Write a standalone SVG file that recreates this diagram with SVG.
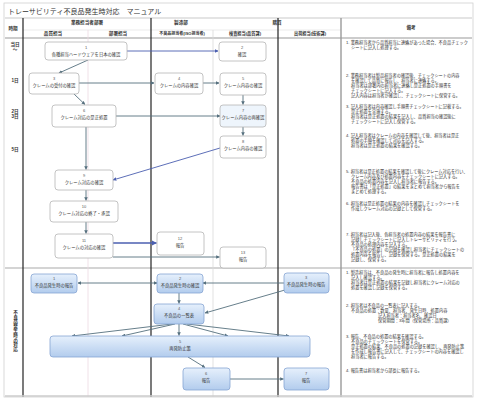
<svg xmlns="http://www.w3.org/2000/svg" width="477" height="401" viewBox="0 0 477 401">
<defs>
<linearGradient id="g" x1="0" y1="0" x2="0" y2="1">
<stop offset="0" stop-color="#e6f0fc"/>
<stop offset="1" stop-color="#b2cced"/>
</linearGradient>
<marker id="ah" viewBox="0 0 6 6" refX="5.5" refY="3" markerWidth="4" markerHeight="4" orient="auto-start-reverse">
<path d="M0,0 L6,3 L0,6 z" fill="#56707e"/>
</marker>
<marker id="ahb" viewBox="0 0 6 6" refX="5.5" refY="3" markerWidth="4" markerHeight="4" orient="auto-start-reverse">
<path d="M0,0 L6,3 L0,6 z" fill="#4b5fb0"/>
</marker>
</defs>
<style>
text{font-family:"Liberation Sans","Noto Sans CJK JP",sans-serif;fill:#333}
.t{font-size:4.3px;text-anchor:middle}
.n{font-size:4px;text-anchor:middle;fill:#555}
.h{font-size:4.6px;text-anchor:middle;font-weight:bold}
.note{font-size:4.2px}
.box{fill:#fff;stroke:#b5b5b5;stroke-width:0.8}
.lbox{fill:url(#g);stroke:#86a5d3;stroke-width:0.8}
.c{stroke:#56707e;stroke-width:0.9;fill:none;marker-end:url(#ah)}
.cb{stroke:#4b5fb0;stroke-width:0.9;fill:none;marker-end:url(#ahb)}
.thick{stroke:#222;stroke-width:1.2}
.thin{stroke:#d9d9d9;stroke-width:0.8}
.faint{stroke:#ecd9e2;stroke-width:0.8}
</style>
<rect x="0" y="0" width="477" height="401" fill="#fff"/>
<rect x="4" y="3" width="469" height="394" fill="none" stroke="#d0d0d0" stroke-width="0.8"/>
<text x="8" y="14" style="font-size:7px">トレーサビリティ不良品発生時対応　マニュアル</text>

<g id="grid">
<line x1="5" y1="18" x2="472" y2="18" stroke="#bbb" stroke-width="0.8"/>
<line x1="23" y1="30" x2="341" y2="30" stroke="#ddd" stroke-width="0.6"/>
<line x1="5" y1="38" x2="472" y2="38" stroke="#999" stroke-width="1"/>
<line x1="5" y1="268" x2="472" y2="268" stroke="#aaa" stroke-width="1.2"/>
<line x1="88" y1="30" x2="88" y2="397" class="faint"/>
<line x1="213" y1="30" x2="213" y2="397" class="thin"/>
<line x1="23" y1="18" x2="23" y2="397" class="thick"/>
<line x1="151" y1="18" x2="151" y2="397" class="thick"/>
<line x1="278" y1="18" x2="278" y2="397" class="thick"/>
<line x1="341" y1="18" x2="341" y2="397" stroke="#9a9a9a" stroke-width="1.4"/>
<line x1="5" y1="396" x2="472" y2="396" stroke="#ccc" stroke-width="1.5"/>
</g>

<g id="headers">
<text class="h" x="13" y="30">時期</text>
<text class="h" x="87" y="24">業務担当者部署</text>
<text class="h" x="53" y="35">品質担当</text>
<text class="h" x="118" y="35">部署担当</text>
<text class="h" x="181" y="24">製造部</text>
<text class="h" x="182" y="35" style="font-size:4px">不良品担当者(ISO担当者)</text>
<text class="h" x="277" y="24">購買</text>
<text class="h" x="245" y="35" style="font-size:4.2px">検査担当(品質課)</text>
<text class="h" x="310" y="35" style="font-size:4.2px">出荷担当(技術課)</text>
<text class="h" x="411" y="29">備考</text>
</g>

<g id="timeLabels">
<text class="h" x="15" y="46">当日</text>
<text class="h" x="15" y="51">～</text>
<text class="h" x="15" y="82">1日</text>
<text class="h" x="15" y="113">2日</text>
<text class="h" x="15" y="118">3日</text>
<text class="h" x="15" y="151">5日</text>
<text x="15" y="310" style="font-size:4.6px;font-weight:bold;writing-mode:vertical-rl">不良品発生時の対応</text>
</g>

<g id="connectors">
<path class="cb" d="M126,51 H218"/>
<path class="c" d="M88,60 L59,73"/>
<path class="c" d="M79,83 H154"/>
<path class="c" d="M203,83 H219"/>
<path class="c" d="M74,94 L85,104.5"/>
<path class="c" d="M116,116 H220"/>
<path class="c" d="M243,95 V104.5"/>
<path class="c" d="M243,127 V135.5"/>
<path class="cb" d="M220,148 L113,180"/>
<path class="c" d="M86,127 V169.5"/>
<path class="c" d="M86,190 V200.5"/>
<path class="c" d="M86,222 V233.5"/>
<path class="cb" d="M113,243 H156.5" style="stroke-width:1.3"/>
<path class="c" d="M113,257 H219.5"/>
<path class="c" d="M157,283 H78" style="marker-start:url(#ah)"/>
<path class="c" d="M284,283 H203"/>
<path class="c" d="M179,293 V303.5"/>
<path class="c" d="M285,290 L205,313"/>
<path class="c" d="M172,324 L72,336"/>
<path class="c" d="M175,324 L122,336"/>
<path class="c" d="M179,324 V335.5"/>
<path class="c" d="M183,324 L228,336"/>
<path class="c" d="M187,324 L289,336"/>
<path class="c" d="M188,357 L205,367.5"/>
<path class="c" d="M230,379 H283.5"/>
</g>

<g id="n1"><rect class="box" x="45" y="42" width="82" height="18" rx="3"/><text class="n" x="86" y="49">1</text><text class="t" x="86" y="56">各種担当ハードウェアを日本の確認</text></g>
<g id="n2"><rect class="box" x="219" y="42" width="47" height="19" rx="3"/><text class="n" x="242" y="49">2</text><text class="t" x="242" y="56">確認</text></g>
<g id="n3"><rect class="box" x="29" y="73" width="50" height="21" rx="3"/><text class="n" x="54" y="80">3</text><text class="t" x="54" y="87">クレームの受付の確認</text></g>
<g id="n4"><rect class="box" x="155" y="73" width="48" height="21" rx="3"/><text class="n" x="179" y="80">4</text><text class="t" x="179" y="87">クレームの内容確認</text></g>
<g id="n5"><rect class="box" x="220" y="73" width="46" height="22" rx="3"/><text class="n" x="243" y="80">5</text><text class="t" x="243" y="87">クレーム内容の確認</text></g>
<g id="n6"><rect class="box" x="52" y="105" width="64" height="22" rx="3"/><text class="n" x="84" y="112">6</text><text class="t" x="84" y="119">クレーム対応の是正処置</text></g>
<g id="n7"><rect class="box" x="220" y="105" width="46" height="22" rx="3" style="fill:#eef5fc"/><text class="n" x="243" y="112">7</text><text class="t" x="243" y="119">クレーム内容の再確認</text></g>
<g id="n8"><rect class="box" x="220" y="136" width="46" height="22" rx="3"/><text class="n" x="243" y="143">8</text><text class="t" x="243" y="150">クレーム内容の確認</text></g>
<g id="n9"><rect class="box" x="55" y="170" width="58" height="20" rx="3"/><text class="n" x="84" y="177">9</text><text class="t" x="84" y="184">クレーム対応の確認</text></g>
<g id="n10"><rect class="box" x="50" y="201" width="68" height="21" rx="3"/><text class="n" x="84" y="208">10</text><text class="t" x="84" y="215">クレーム対応の終了・承認</text></g>
<g id="n11"><rect class="box" x="55" y="234" width="58" height="24" rx="3"/><text class="n" x="84" y="242">11</text><text class="t" x="84" y="249">クレームの対応の確認</text></g>
<g id="n12"><rect class="box" x="157" y="232" width="47" height="23" rx="3"/><text class="n" x="180" y="240">12</text><text class="t" x="180" y="247">報告</text></g>
<g id="n13"><rect class="box" x="220" y="247" width="46" height="21" rx="3"/><text class="n" x="243" y="254">13</text><text class="t" x="243" y="261">報告</text></g>

<g id="l1"><rect class="lbox" x="31" y="274" width="46" height="19" rx="3"/><text class="n" x="54" y="280">1</text><text class="t" x="54" y="287">不良品発生時の報告</text></g>
<g id="l2"><rect class="lbox" x="157" y="274" width="46" height="19" rx="3"/><text class="n" x="180" y="280">2</text><text class="t" x="180" y="287">不良品発生時の確認</text></g>
<g id="l3"><rect class="lbox" x="284" y="273" width="45" height="20" rx="3"/><text class="n" x="306" y="279">3</text><text class="t" x="306" y="286">不良品発生時の報告</text></g>
<g id="l4"><rect class="lbox" x="154" y="304" width="50" height="20" rx="3"/><text class="n" x="179" y="310">4</text><text class="t" x="179" y="317">不良品の一覧表</text></g>
<g id="l5"><rect class="lbox" x="50" y="336" width="260" height="21" rx="3"/><text class="n" x="180" y="343">5</text><text class="t" x="180" y="350">再発防止策</text></g>
<g id="l6"><rect class="lbox" x="183" y="368" width="47" height="22" rx="3"/><text class="n" x="206" y="375">6</text><text class="t" x="206" y="382">報告</text></g>
<g id="l7"><rect class="lbox" x="284" y="368" width="45" height="22" rx="3"/><text class="n" x="306" y="375">7</text><text class="t" x="306" y="382">報告</text></g>

<g id="notes" class="note">
<text x="346" y="44">1. 業務担当者から品質担当に連絡があった場合、不良品チェック</text>
<text x="351" y="49">シートに記入し処理する。</text>
<text x="346" y="77">2. 業務担当者は製品担当者の確認後、チェックシートの内容</text>
<text x="351" y="82">を確認して品質に報告し、担当者に連絡する。</text>
<text x="351" y="87">担当者は部署内の担当者に連絡し是正処置の手順書を</text>
<text x="351" y="92">チェックシートに記入する。</text>
<text x="351" y="97">記入内容は担当者が確認し、チェックシートに保管する。</text>
<text x="346" y="108">3. 記入担当者は内容確認し手順書チェックシートに記載する。</text>
<text x="351" y="113">是正処置を実施する。</text>
<text x="351" y="118">担当者は是正処置の結果を記入し、品質担当の確認後に</text>
<text x="351" y="123">チェックシートに記入し保管する。</text>
<text x="346" y="137">4. 記入担当者はクレームの内容を確認して後、担当者は是正</text>
<text x="351" y="142">処置の手順を確認して対応を記入する。</text>
<text x="351" y="147">担当者は是正処置の結果を確認する。</text>
<text x="346" y="173">5. 担当者は是正処置の結果を確認して後にクレーム対応を行い、</text>
<text x="351" y="178">クレーム内容及び処置内容をチェックシートに記入する。</text>
<text x="351" y="183">不良品の処置内容を記入し担当者に報告する。</text>
<text x="351" y="188">報告書は「是正処置」の結果をまとめて担当者から報告を</text>
<text x="351" y="193">まとめて処理する。</text>
<text x="346" y="205">6. 担当者は是正処置の結果の内容を確認しチェックシートを</text>
<text x="351" y="210">作成しクレーム対応の記録として保管する。</text>
<text x="346" y="236">7. 担当者は記入後、各担当者の処置内容の結果を報告書に</text>
<text x="351" y="241">記録しチェックシートに記入しトレーサビリティを行う。</text>
<text x="351" y="246">不良品の処理内容を記入する。</text>
<text x="351" y="251">「不良品の処置」の記録を確認し担当者にチェックシートの</text>
<text x="351" y="256">処置内容を報告し、記録を保管する。是正処置の結果を</text>
<text x="351" y="261">記録し、保管する。</text>
<text x="346" y="274">1. 製造担当は、不良品の発生時に担当者に報告し処置内容を</text>
<text x="351" y="279">記入し確認する。</text>
<text x="351" y="284">担当者は是正処置の結果を記録し担当者にクレーム対応の</text>
<text x="351" y="289">処置を確認し記録を保管する。</text>
<text x="346" y="307">2. 担当者は不良品の一覧表に記入する。</text>
<text x="351" y="312">不良品の処置：数量、担当者、発生日時、処置内容</text>
<text x="378" y="317">記入担当者：担当者名、確認日</text>
<text x="378" y="322">保管期間：3年間（保管場所：品質課）</text>
<text x="346" y="338">3. 報告、不良品の処置の結果を確認する。</text>
<text x="351" y="343">不良品のチェックシートを保管する。</text>
<text x="351" y="348">是正処置の結果、不良品の処置の記録を確認し、再発防止策</text>
<text x="351" y="353">を作成し報告書に記入して、チェックシートの内容を確認し</text>
<text x="351" y="358">担当者に報告する。</text>
<text x="346" y="372">4. 報告書は担当者から部長に報告する。</text>
</g>
</svg>
